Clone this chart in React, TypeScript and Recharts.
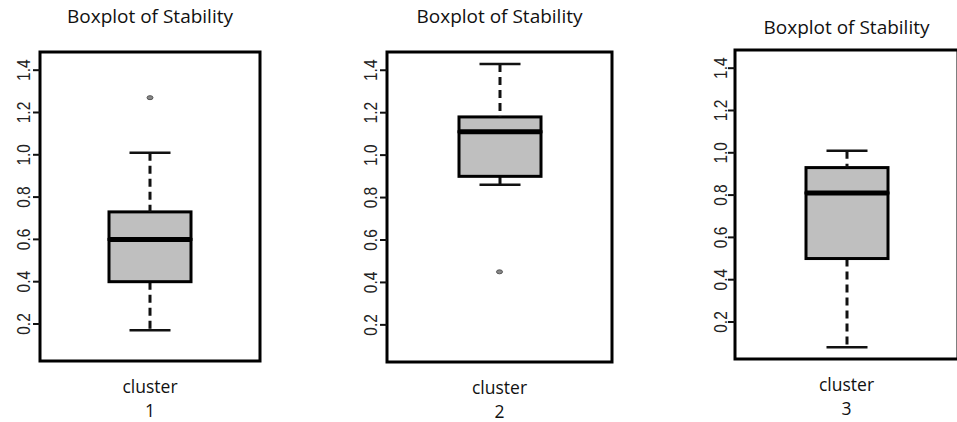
import React from "react";
import { ComposedChart, Bar, Scatter, XAxis, YAxis, ReferenceArea } from "recharts";

const clusters = ["1", "2", "3"];
const whiskerLow = [0.17, 0.86, 0.08];
const lowerQuartile = [0.4, 0.9, 0.5];
const medians = [0.6, 1.11, 0.81];
const upperQuartile = [0.73, 1.18, 0.93];
const whiskerHigh = [1.01, 1.43, 1.01];
const outliers: (number | null)[] = [1.27, 0.45, null];
const yTicks = [0.2, 0.4, 0.6, 0.8, 1.0, 1.2, 1.4];
const title = "Boxplot of Stability";
const axisLabel = "cluster";

const Y_DOMAIN: [number, number] = [0.025, 1.486];

// frame of each plot in page pixels
const panels = [
  { left: 40, right: 260, top: 52, bottom: 361, titleTop: 7, labelShift: 16 },
  { left: 387, right: 612, top: 52, bottom: 362, titleTop: 7, labelShift: 16 },
  { left: 735, right: 958, top: 50, bottom: 359, titleTop: 18, labelShift: 14 },
];

const FONT = "'Open Sans', sans-serif";

const LowWhisker = (p: any) => {
  const cx = p.x + p.width / 2;
  const cap = p.width / 4;
  return (
    <g>
      <line x1={cx} x2={cx} y1={p.y} y2={p.y + p.height} stroke="#111" strokeWidth={3} strokeDasharray="8 5" />
      <line x1={cx - cap} x2={cx + cap} y1={p.y + p.height} y2={p.y + p.height} stroke="#111" strokeWidth={2.5} />
    </g>
  );
};

const HighWhisker = (p: any) => {
  const cx = p.x + p.width / 2;
  const cap = p.width / 4;
  return (
    <g>
      <line x1={cx} x2={cx} y1={p.y} y2={p.y + p.height} stroke="#111" strokeWidth={3} strokeDasharray="8 5" />
      <line x1={cx - cap} x2={cx + cap} y1={p.y} y2={p.y} stroke="#111" strokeWidth={2.5} />
    </g>
  );
};

const BoxLow = (p: any) => (
  <rect x={p.x} y={p.y} width={p.width} height={p.height} fill="#bfbfbf" stroke="#000" strokeWidth={3} />
);

const BoxHigh = (p: any) => (
  <g>
    <rect x={p.x} y={p.y} width={p.width} height={p.height} fill="#bfbfbf" stroke="#000" strokeWidth={3} />
    <line x1={p.x} x2={p.x + p.width} y1={p.y + p.height} y2={p.y + p.height} stroke="#000" strokeWidth={5} />
  </g>
);

const Outlier = (p: any) => (
  <ellipse cx={p.cx} cy={p.cy} rx={3} ry={2} fill="#888" stroke="#555" strokeWidth={1} />
);

function makeYTick(shift: number) {
  return (p: any) => {
    const cx = p.x - shift + 9;
    return (
      <text
        transform={`translate(${cx},${p.y}) rotate(-90) scale(1,1.2)`}
        textAnchor="middle"
        dominantBaseline="central"
        fontFamily="'Liberation Sans', Arial, sans-serif"
        fontSize={15.5}
        fill="#222"
      >
        {p.payload.value.toFixed(1)}
      </text>
    );
  };
}

const XTick = (p: any) => (
  <g fontFamily={FONT} fontSize={17.5} fill="#111" textAnchor="middle">
    <text x={p.x} y={p.y + 32}>{axisLabel}</text>
    <text x={p.x} y={p.y + 56}>{p.payload.value}</text>
  </g>
);

function Panel({ i }: { i: number }) {
  const pn = panels[i];
  const row = {
    name: clusters[i],
    base: whiskerLow[i],
    lowW: lowerQuartile[i] - whiskerLow[i],
    boxLow: medians[i] - lowerQuartile[i],
    boxHigh: upperQuartile[i] - medians[i],
    highW: whiskerHigh[i] - upperQuartile[i],
    outlier: outliers[i],
  };
  const chartLeft = pn.left - 40;
  const width = pn.right - pn.left + 50;
  const height = 422;
  return (
    <div style={{ position: "absolute", left: chartLeft, top: 0 }}>
      <div
        style={{
          position: "absolute",
          left: 40,
          top: pn.titleTop,
          width: pn.right - pn.left,
          textAlign: "center",
          fontFamily: FONT,
          fontSize: 19,
          lineHeight: "19px",
          color: "#111",
          whiteSpace: "nowrap",
        }}
      >
        {title}
      </div>
      <ComposedChart
        width={width}
        height={height}
        data={[row]}
        margin={{ top: pn.top, right: 10, bottom: 0, left: 10 }}
        barCategoryGap={0}
      >
        <XAxis
          dataKey="name"
          type="category"
          height={height - pn.bottom}
          axisLine={false}
          tickLine={false}
          tickSize={0}
          tickMargin={0}
          tick={<XTick />}
          interval={0}
        />
        <YAxis
          type="number"
          domain={Y_DOMAIN}
          ticks={yTicks}
          allowDataOverflow
          width={30}
          axisLine={false}
          tickLine={{ stroke: "#111", strokeWidth: 2 }}
          tickSize={7}
          tickMargin={2}
          tick={makeYTick(pn.labelShift)}
        />
        <ReferenceArea y1={Y_DOMAIN[0]} y2={Y_DOMAIN[1]} fill="#fff" fillOpacity={1} stroke="none" ifOverflow="visible" />
        <Bar dataKey="base" stackId="b" barSize={82} shape={() => <g />} isAnimationActive={false} />
        <Bar dataKey="lowW" stackId="b" barSize={82} shape={LowWhisker} isAnimationActive={false} />
        <Bar dataKey="boxLow" stackId="b" barSize={82} shape={BoxLow} isAnimationActive={false} />
        <Bar dataKey="boxHigh" stackId="b" barSize={82} shape={BoxHigh} isAnimationActive={false} />
        <Bar dataKey="highW" stackId="b" barSize={82} shape={HighWhisker} isAnimationActive={false} />
        {outliers[i] != null && (
          <Scatter dataKey="outlier" shape={Outlier} isAnimationActive={false} />
        )}
        <ReferenceArea
          y1={Y_DOMAIN[0]}
          y2={Y_DOMAIN[1]}
          fill="none"
          stroke="#000"
          strokeWidth={3}
          ifOverflow="visible"
        />
      </ComposedChart>
    </div>
  );
}

export default function App() {
  return (
    <div
      style={{
        position: "absolute",
        left: 0,
        top: 0,
        width: 957,
        height: 422,
        overflow: "hidden",
        background: "#fff",
      }}
    >
      {clusters.map((_, i) => (
        <Panel key={i} i={i} />
      ))}
    </div>
  );
}
